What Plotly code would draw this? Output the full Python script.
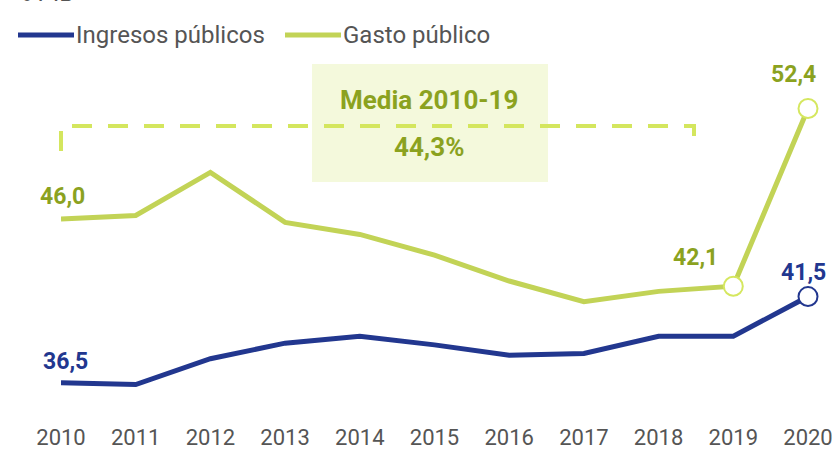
import plotly.graph_objects as go

years = [2010, 2011, 2012, 2013, 2014, 2015, 2016, 2017, 2018, 2019, 2020]
ingresos = [36.5, 36.4, 37.9, 38.8, 39.2, 38.7, 38.1, 38.2, 39.2, 39.2, 41.5]
gasto = [46.0, 46.2, 48.7, 45.8, 45.1, 43.9, 42.4, 41.2, 41.8, 42.1, 52.4]
series_names = ["Ingresos públicos", "Gasto público"]
media_label = "Media 2010-19"
media_value = "44,3%"
unit_label = "% PIB"

BLUE = "#22378f"
GREEN = "#c2d356"
GREEN_MK = "#d5e75f"
OLIVE = "#8ba21f"
GREY = "#555555"
FONT = "Roboto"

# plot area in pixels
W, H = 838, 450
L, R, T, B = 61, 30, 55, 28
PW, PH = W - L - R, H - T - B


def px(x):
    return (x - L) / PW


def py(y):
    return (H - B - y) / PH


def fmt(v):
    return f"{v:.1f}".replace(".", ",")


fig = go.Figure()

fig.add_trace(go.Scatter(
    x=years, y=gasto, mode="lines", name=series_names[1],
    line=dict(color=GREEN, width=5), cliponaxis=False, showlegend=False,
))
fig.add_trace(go.Scatter(
    x=years, y=ingresos, mode="lines", name=series_names[0],
    line=dict(color=BLUE, width=5), cliponaxis=False, showlegend=False,
))
# hollow end markers
fig.add_trace(go.Scatter(
    x=years[-2:], y=gasto[-2:], mode="markers", showlegend=False,
    marker=dict(size=19, color="white", line=dict(color=GREEN_MK, width=2)),
    cliponaxis=False,
))
fig.add_trace(go.Scatter(
    x=years[-1:], y=ingresos[-1:], mode="markers", showlegend=False,
    marker=dict(size=19, color="white", line=dict(color=BLUE, width=2)),
    cliponaxis=False,
))

# media box + bracket
fig.add_shape(type="rect", xref="paper", yref="paper",
              x0=px(312), x1=px(548), y0=py(182), y1=py(64),
              fillcolor="#f4f9dc", line=dict(width=0), layer="below")
fig.add_shape(type="path", xref="paper", yref="paper",
              path=f"M {px(61)},{py(151)} L {px(61)},{py(126)} L {px(694)},{py(126)} L {px(694)},{py(151)}",
              line=dict(color="#d4e65e", width=4, dash="20px,16px"))

ann = []
for txt, yy in [(media_label, 100), (media_value, 147)]:
    ann.append(dict(text=f"<b>{txt}</b>", x=px(429), y=py(yy), xref="paper", yref="paper",
                    xanchor="center", yanchor="middle", showarrow=False,
                    font=dict(family=FONT, size=26, color=OLIVE)))

# data labels
lab = [
    (years[0], gasto[0], 1, -22, OLIVE),
    (years[0], ingresos[0], 4, -21, BLUE),
    (years[9], gasto[9], -38, -29, OLIVE),
    (years[10], ingresos[10], -5, -24, BLUE),
    (years[10], gasto[10], -15, -34, OLIVE),
]
for x, y, dx, dy, c in lab:
    ann.append(dict(text=f"<b>{fmt(y)}</b>", x=x, y=y, xshift=dx, yshift=-dy,
                    xanchor="center", yanchor="middle", showarrow=False,
                    font=dict(family=FONT, size=23, color=c)))

# legend drawn by hand
for x0, name, c in [(18, series_names[0], BLUE), (285, series_names[1], GREEN)]:
    fig.add_shape(type="line", xref="paper", yref="paper",
                  x0=px(x0), x1=px(x0 + 56), y0=py(35), y1=py(35),
                  line=dict(color=c, width=5))
    ann.append(dict(text=name, x=px(x0 + 56), y=py(35), xref="paper", yref="paper",
                    xanchor="left", yanchor="middle", showarrow=False,
                    font=dict(family=FONT, size=24, color=GREY)))

# unit label, mostly above the top edge as in the original
ann.append(dict(text=unit_label, x=px(12), y=py(9), xref="paper", yref="paper",
                xanchor="left", yanchor="bottom", showarrow=False,
                font=dict(family=FONT, size=24, color=GREY)))

fig.update_layout(
    width=W, height=H,
    margin=dict(l=L, r=R, t=T, b=B, autoexpand=False),
    paper_bgcolor="white", plot_bgcolor="white",
    font=dict(family=FONT, color=GREY),
    annotations=ann,
    showlegend=False,
)
fig.update_xaxes(range=[2010, 2020], tickvals=years, ticktext=[str(y) for y in years],
                 showgrid=False, zeroline=False, showline=False, automargin=False,
                 tickfont=dict(family=FONT, size=22, color=GREY))
# keeps 46.0 at y=219 px with ~17.25 px per point
fig.update_yaxes(range=[34.23, 55.5], showgrid=False, zeroline=False, automargin=False,
                 showline=False, showticklabels=False)

fig.write_html("out.html", config={"displayModeBar": False},
               post_script="document.body.style.margin='0';")
